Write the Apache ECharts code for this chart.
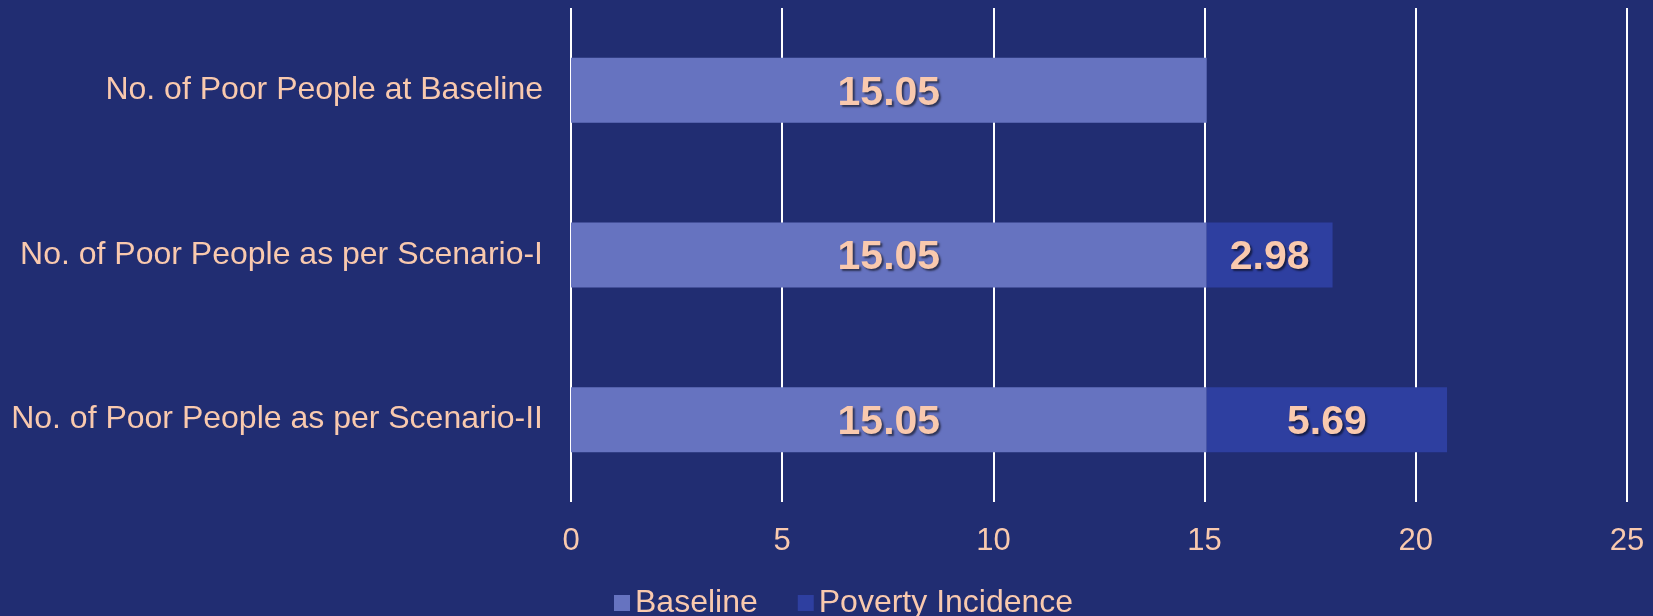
<!DOCTYPE html>
<html>
<head>
<meta charset="utf-8">
<script src="https://cdn.jsdelivr.net/npm/echarts@6/dist/echarts.min.js"></script>
<style>
html,body{margin:0;padding:0;background:#212D72;}
#c{width:1653px;height:616px;}
</style>
</head>
<body>
<div id="c"></div>
<script>
var categories = ["No. of Poor People at Baseline", "No. of Poor People as per Scenario-I", "No. of Poor People as per Scenario-II"];
var baselineValues = [15.05, 15.05, 15.05];
var povertyValues = [null, 2.98, 5.69];
var seriesNames = ["Baseline", "Poverty Incidence"];

var textColor = "#F9C9AE";
var labelStyle = {
  show: true,
  position: "inside",
  offset: [0, 3],
  color: textColor,
  fontFamily: "Liberation Sans, Arial, sans-serif",
  fontWeight: "bold",
  fontSize: 41,
  textShadowColor: "rgba(0,0,0,0.55)",
  textShadowBlur: 2,
  textShadowOffsetX: 2,
  textShadowOffsetY: 2,
  formatter: function(p){ return p.value == null ? "" : p.value.toFixed(2); }
};

var chart = echarts.init(document.getElementById("c"), null, {renderer: "canvas"});
chart.setOption({
  backgroundColor: "#212D72",
  animation: false,
  textStyle: {fontFamily: "Liberation Sans, Arial, sans-serif"},
  grid: {left: 571, right: 26, top: 8, bottom: 114, containLabel: false},
  legend: {
    data: seriesNames,
    bottom: -8,
    left: 609,
    itemWidth: 16,
    itemHeight: 16,
    itemGap: 40,
    icon: "rect",
    textStyle: {color: textColor, fontSize: 32, fontFamily: "Liberation Sans, Arial, sans-serif"}
  },
  xAxis: {
    type: "value",
    min: 0,
    max: 25,
    interval: 5,
    axisLine: {show: false},
    axisTick: {show: false},
    axisLabel: {color: textColor, fontSize: 31, margin: 24},
    splitLine: {show: true, lineStyle: {color: "#FFFFFF", width: 2}}
  },
  yAxis: {
    type: "category",
    data: categories,
    inverse: true,
    axisLine: {show: false},
    axisTick: {show: false},
    axisLabel: {color: textColor, fontSize: 32, margin: 28, padding: [5, 0, 0, 0]}
  },
  series: [
    {
      name: seriesNames[0],
      type: "bar",
      stack: "total",
      data: baselineValues,
      barWidth: 65,
      itemStyle: {color: "#6673C0"},
      label: labelStyle
    },
    {
      name: seriesNames[1],
      type: "bar",
      stack: "total",
      data: povertyValues,
      barWidth: 65,
      itemStyle: {color: "#2E3FA0"},
      label: labelStyle
    }
  ]
});
</script>
</body>
</html>
